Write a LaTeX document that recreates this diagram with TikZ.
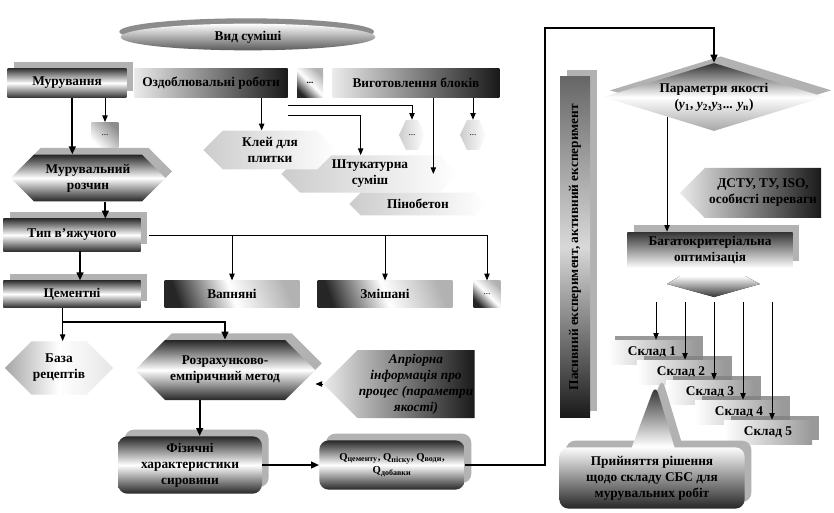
\documentclass[tikz,border=0pt]{standalone}
\usepackage{fontspec}
\setmainfont{Liberation Serif}
\usetikzlibrary{shapes.geometric, shapes.symbols, shapes.callouts, arrows.meta, positioning, calc, shadows}
\tikzset{
  smbar/.style={rectangle, top color=black!80, bottom color=black!80, middle color=white,
                font=\bfseries, align=center, inner sep=1pt},
  smgrad/.style={rectangle, left color=black!8, right color=black!90,
                 font=\bfseries, align=center, inner sep=1pt},
  smdiag/.style={rectangle, left color=black!85, right color=black!30, middle color=white,
                 shading angle=110, font=\bfseries, align=center, inner sep=1pt},
  smdark/.style={top color=black!85, bottom color=black!85, middle color=white,
                 font=\bfseries, align=center, inner sep=1pt},
  smpale/.style={signal, signal to=east and west, left color=black!20, right color=white,
                 font=\bfseries, align=center, inner sep=1pt},
  smshadow/.style={drop shadow={shadow xshift=5pt, shadow yshift=5pt, fill=black!30, opacity=1}},
  smflow/.style={-{Triangle[length=5pt, width=4pt]}, line width=0.7pt},
  smthick/.style={-{Triangle[length=6pt, width=5pt]}, line width=1.6pt},
}
\begin{document}
\begin{tikzpicture}[x=0.75pt, y=-0.75pt, font=\bfseries,
  smsklad/.style={rectangle, left color=white, right color=black!40, minimum width=66pt,
                  minimum height=18pt, drop shadow={shadow xshift=5pt, shadow yshift=3pt, fill=black!50, opacity=0.8}},
  smround/.style={smdark, rounded corners=7pt}]
  \path[fill=white] (0,0) rectangle (834,513);
  \useasboundingbox (0,0) rectangle (834,513);

  \node[ellipse, top color=white, bottom color=black!65, minimum width=191pt, minimum height=20pt, inner sep=0pt,
        drop shadow={shadow xshift=-1pt, shadow yshift=4pt, fill=black!45, opacity=1}] (vid) at (248,37) {Вид суміші};

  \node[smbar, smshadow, minimum width=89pt, minimum height=22pt] (mur) at (67,83) {Мурування};
  \node[smgrad, minimum width=115pt, minimum height=22pt] (ozd) at (211,83) {Оздоблювальні роботи};
  \node[smdiag, shading angle=135, minimum width=19.5pt, minimum height=22pt, font=\scriptsize\bfseries] (dotsE) at (310,83) {...};
  \node[smgrad, minimum width=125pt, minimum height=22pt] (vyg) at (416,83) {Виготовлення блоків};

  \node[rectangle, left color=white, right color=black!45, shading angle=135, minimum width=20pt, minimum height=19pt,
        font=\scriptsize] (dotsA) at (105,135) {...};
  \node[smdark, signal, signal to=east and west, smshadow, minimum width=116pt, minimum height=35pt] (mrozch) at (88,178)
       {Мурувальний\\розчин};
  \node[smpale, minimum width=133pt, minimum height=28pt] (shtuk) at (370,174) {Штукатурна\\суміш};
  \node[smpale, minimum width=100pt, minimum height=29pt] (klei) at (270,150) {Клей для\\плитки};
  \node[smpale, signal pointer angle=130, minimum width=19.5pt, minimum height=22.5pt, inner sep=0pt, font=\scriptsize]
       (dotsB) at (412,135) {...};
  \node[smpale, signal pointer angle=130, minimum width=19.5pt, minimum height=22.5pt, inner sep=0pt, font=\scriptsize]
       (dotsC) at (473,135) {...};
  \node[smpale, minimum width=103pt, minimum height=17pt] (pino) at (418,204) {Пінобетон};

  \node[smbar, smshadow, minimum width=103pt, minimum height=24pt] (typ) at (72,235) {Тип в'яжучого};
  \node[smbar, smshadow, minimum width=103pt, minimum height=20pt] (cem) at (72,294) {Цементні};
  \node[smdiag, minimum width=101pt, minimum height=20pt] (vap) at (232,294) {Вапняні};
  \node[smdiag, minimum width=101pt, minimum height=20pt] (zmi) at (385,294) {Змішані};
  \node[smdiag, shading angle=135, minimum width=20pt, minimum height=20pt, font=\scriptsize] (dotsD) at (487,294) {...};

  \node[signal, signal to=east and west, left color=black!35, right color=black!10, middle color=white,
        minimum width=73.5pt, minimum height=40pt, align=center, inner sep=1pt] (baza) at (59,368) {База\\рецептів};
  \node[smdark, signal, signal to=east and west, smshadow, minimum width=135pt, minimum height=45pt] (rozr) at (225,370)
       {Розрахунково-\\емпіричний метод};
  \node[smgrad, signal, signal to=west, minimum width=107pt, minimum height=51pt, font=\bfseries\itshape] (apr) at (416,384)
       {Апріорна\\інформація про\\процес (параметри\\якості)};
  \node[smround, smshadow, minimum width=108pt, minimum height=43pt] (fiz) at (190,465)
       {Фізичні\\характеристики\\сировини};
  \node[smround, smshadow, minimum width=109pt, minimum height=37pt, font=\bfseries\footnotesize] (q) at (392,465)
       {Q\textsubscript{цементу}, Q\textsubscript{піску}, Q\textsubscript{води},\\Q\textsubscript{добавки}};

  \node[rectangle, top color=black!60, bottom color=black!90, middle color=white!85!black, smshadow,
        minimum width=22.5pt, minimum height=256pt, inner sep=0pt] (pas) at (575,247)
       {\rotatebox{90}{Пасивний експеримент, активний експеримент}};
  \node[diamond, aspect=3.3, top color=black!80, bottom color=black!35, middle color=white, smshadow,
        minimum width=166pt, minimum height=51pt, inner sep=0pt, align=center] (par) at (714,97)
       {Параметри якості\\(\textit{y}\textsubscript{1}, \textit{y}\textsubscript{2},\textit{y}\textsubscript{3}... \textit{y}\textsubscript{n})};
  \node[smgrad, signal, signal to=west, minimum width=106pt, minimum height=37.5pt] (dstu) at (763,193)
       {ДСТУ, ТУ, ISO,\\особисті переваги};
  \node[rectangle, top color=black!80, bottom color=white, smshadow, minimum width=124pt, minimum height=27pt,
        align=center, inner sep=1pt] (bag) at (710,250) {Багатокритеріальна\\оптимізація};
  \fill[top color=white, bottom color=black!80] (680,276) -- (745,276) -- (760,284) -- (714,297) -- (667,284) -- cycle;
  \coordinate (fan) at (714,302);

  \foreach \i in {1,...,5}
    \node[smsklad] (s\i) at ({652+29*(\i-1)},{352+20*(\i-1)}) {Склад \i};

  \node[smround, rectangle callout, callout absolute pointer={([xshift=14pt]s2.south west)}, callout pointer width=32pt,
        smshadow, minimum width=139pt, minimum height=46pt] (prin) at (652,478)
       {Прийняття рішення\\щодо складу СБС для\\мурувальних робіт};

  \draw[smthick] ([xshift=4pt]mur.south) -- ([xshift=4pt]mur.south |- mrozch.north);
  \draw[smflow] (mur.south -| dotsA.north) -- (dotsA.north);
  \draw[smflow] ([xshift=38pt]ozd.south) -- ([xshift=38pt]ozd.south |- klei.north);
  \draw[smflow] ([yshift=-6pt]ozd.south east) -| (dotsB.north);
  \draw[smflow] ([yshift=-13pt]ozd.south east) -| ([xshift=-7pt]shtuk.north);
  \draw[smflow] ([xshift=13pt]vyg.south) -- ([xshift=13pt]vyg.south |- shtuk.center);
  \draw[smflow] (vyg.south -| dotsC.north) -- (dotsC.north);
  \draw[smthick] ([xshift=13pt]mrozch.south) -- ([xshift=13pt]mrozch.south |- typ.north);
  \draw[smthick] ([xshift=6pt]typ.south) -- ([xshift=6pt]typ.south |- cem.north);
  \draw[smflow] ([xshift=6pt]typ.east) -| (dotsD.north);
  \draw[smflow] (typ.east -| vap.north) -- (vap.north);
  \draw[smflow] (typ.east -| zmi.north) -- (zmi.north);
  \path ([xshift=-7pt, yshift=-11pt]cem.south) coordinate (cemsplit);
  \draw[line width=0.7pt] ([xshift=-7pt]cem.south) -- (cemsplit);
  \draw[smflow] (cemsplit) -- (cemsplit |- baza.north);
  \draw[smthick] (cemsplit) -| (rozr.north);
  \draw[smflow] (apr.west) -- (apr.west -| rozr.east);
  \draw[smthick] ([xshift=-19pt]rozr.south) -- ([xshift=-19pt]rozr.south |- fiz.north);
  \draw[smthick] (fiz.east) -- (fiz.east -| q.west);
  \coordinate (loop) at (545,28);
  \draw[smthick] (q.east) -| (loop) -| (par.north);
  \coordinate (parout) at ($(par.center)+(-47,20)$);
  \draw[smflow] (parout) -- (parout |- bag.north);
  \foreach \i in {1,...,5}
    \draw[smflow] ([xshift=3pt]s\i.north |- fan) -- ([xshift=3pt]s\i.north);
\end{tikzpicture}
\end{document}
